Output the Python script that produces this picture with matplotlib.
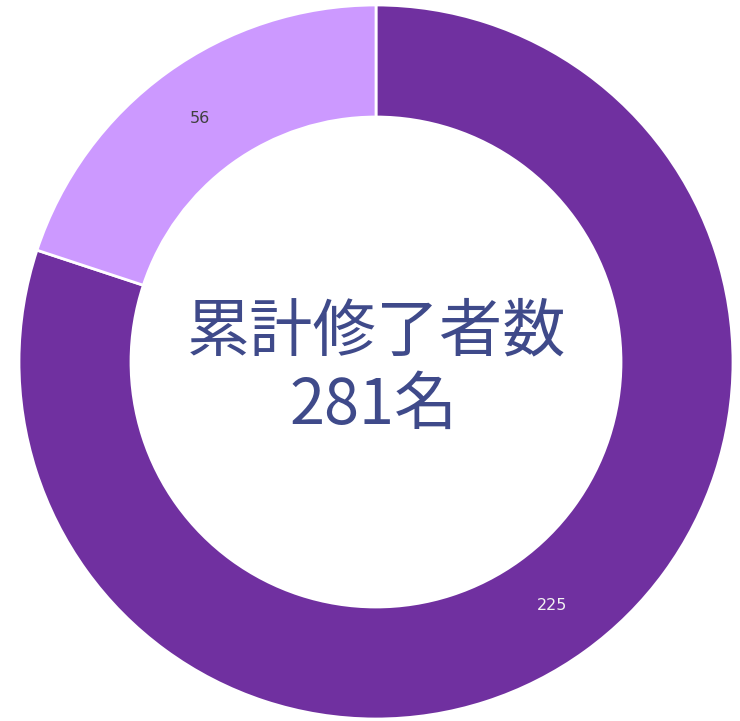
import matplotlib.pyplot as plt

plt.rcParams['font.family'] = ['Noto Sans CJK JP', 'DejaVu Sans']

# data
values = [225, 56]
labels = ['225', '56']
colors = ['#7030A0', '#CC99FF']
label_colors = ['#F2F2F2', '#404040']
title_line1 = '累計修了者数'
title_line2 = '281名'

fig = plt.figure(figsize=(7.40, 7.21), dpi=100)
ax = fig.add_axes([0, 0, 1, 1])
ax.set_xlim(0, 740)
ax.set_ylim(0, 721)
ax.set_aspect('equal')
ax.axis('off')

wedges, texts = ax.pie(values, labels=labels, colors=colors, startangle=90,
                       counterclock=False, center=(376, 359), radius=357,
                       labeldistance=0.84,
                       wedgeprops=dict(width=112, edgecolor='white', linewidth=2),
                       textprops=dict(fontsize=11.5, ha='center', va='center',
                                      family=['DejaVu Sans']),
                       frame=True)
for t, c in zip(texts, label_colors):
    t.set_color(c)

ax.set_xlim(0, 740)
ax.set_ylim(0, 721)
ax.axis('off')

ax.text(377, 721 - 332, title_line1, fontsize=45.5, color='#3F4A8A',
        ha='center', va='center')
ax.text(374, 721 - 406, title_line2, fontsize=45.5, color='#3F4A8A',
        ha='center', va='center')

fig.savefig('out.png', dpi=100)
